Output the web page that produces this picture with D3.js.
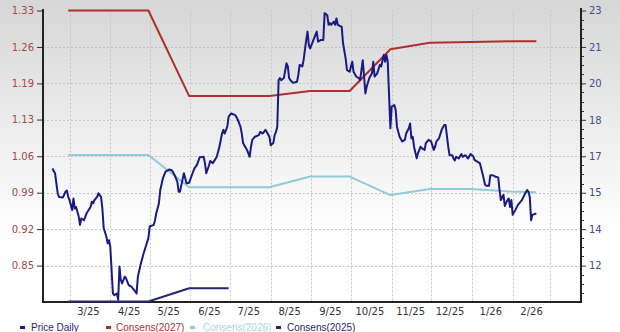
<!DOCTYPE html>
<html><head><meta charset="utf-8">
<script src="https://cdn.jsdelivr.net/npm/d3@7"></script>
<style>html,body{margin:0;padding:0;background:#fff}svg{display:block}</style>
</head><body><svg id="c" width="620" height="332"></svg>
<script>
const priceDates = [
"2025-02-16","2025-02-18","2025-02-20","2025-02-21","2025-02-24","2025-02-26","2025-02-27","2025-02-28",
"2025-03-01","2025-03-03","2025-03-04","2025-03-05","2025-03-06","2025-03-08","2025-03-09","2025-03-10","2025-03-12","2025-03-14","2025-03-17","2025-03-18","2025-03-19","2025-03-20","2025-03-22","2025-03-23","2025-03-25","2025-03-26","2025-03-27","2025-03-29","2025-03-30","2025-03-31",
"2025-04-01","2025-04-02","2025-04-03","2025-04-04","2025-04-06","2025-04-07","2025-04-08","2025-04-09","2025-04-10","2025-04-12","2025-04-13","2025-04-15","2025-04-17","2025-04-20","2025-04-21","2025-04-22","2025-04-24","2025-04-26","2025-04-28","2025-04-30",
"2025-05-01","2025-05-04","2025-05-05","2025-05-06","2025-05-08","2025-05-09","2025-05-11","2025-05-13","2025-05-16","2025-05-18","2025-05-20","2025-05-22","2025-05-23","2025-05-24","2025-05-27","2025-05-29","2025-05-31",
"2025-06-02","2025-06-04","2025-06-06","2025-06-08","2025-06-11","2025-06-12","2025-06-13","2025-06-15","2025-06-16","2025-06-18","2025-06-21","2025-06-23","2025-06-25","2025-06-26","2025-06-27","2025-06-29","2025-06-30",
"2025-07-02","2025-07-05","2025-07-07","2025-07-09","2025-07-10","2025-07-11","2025-07-14","2025-07-16","2025-07-17","2025-07-18","2025-07-20","2025-07-23","2025-07-24","2025-07-26","2025-07-28","2025-07-29","2025-07-31",
"2025-08-01","2025-08-03","2025-08-04","2025-08-05","2025-08-06","2025-08-07","2025-08-08","2025-08-09","2025-08-11","2025-08-13","2025-08-14","2025-08-15","2025-08-16","2025-08-18","2025-08-21","2025-08-22","2025-08-23","2025-08-25","2025-08-26","2025-08-28","2025-08-29","2025-08-30","2025-08-31",
"2025-09-02","2025-09-04","2025-09-05","2025-09-06","2025-09-08","2025-09-10","2025-09-11","2025-09-13","2025-09-14","2025-09-15","2025-09-16","2025-09-18","2025-09-19","2025-09-20","2025-09-21","2025-09-24","2025-09-25","2025-09-27","2025-09-28","2025-09-30",
"2025-10-02","2025-10-03","2025-10-05","2025-10-07","2025-10-08","2025-10-10","2025-10-12","2025-10-13","2025-10-15","2025-10-17","2025-10-18","2025-10-19","2025-10-21","2025-10-23","2025-10-24","2025-10-26","2025-10-27","2025-10-28","2025-10-29","2025-10-31",
"2025-11-01","2025-11-03","2025-11-04","2025-11-05","2025-11-07","2025-11-09","2025-11-11","2025-11-12","2025-11-14","2025-11-15","2025-11-16","2025-11-17","2025-11-18","2025-11-20","2025-11-21","2025-11-23","2025-11-24","2025-11-26","2025-11-27","2025-11-29",
"2025-12-01","2025-12-03","2025-12-04","2025-12-05","2025-12-07","2025-12-09","2025-12-11","2025-12-12","2025-12-14","2025-12-15","2025-12-17","2025-12-18","2025-12-19","2025-12-20","2025-12-22","2025-12-24","2025-12-25","2025-12-27","2025-12-29","2025-12-31",
"2026-01-02","2026-01-03","2026-01-05","2026-01-07","2026-01-09","2026-01-11","2026-01-12","2026-01-14","2026-01-15","2026-01-17","2026-01-19","2026-01-21","2026-01-22","2026-01-23","2026-01-25","2026-01-26","2026-01-28","2026-01-29","2026-01-30","2026-01-31",
"2026-02-01","2026-02-03","2026-02-05","2026-02-08","2026-02-10","2026-02-12","2026-02-13","2026-02-14","2026-02-15","2026-02-16","2026-02-18","2026-02-19"
];
const priceValues = [
1.033,1.024,0.986,0.979,0.978,0.989,0.991,0.979,
0.973,0.954,0.976,0.957,0.960,0.942,0.926,0.938,0.935,0.948,0.960,0.970,0.967,0.973,0.979,0.986,0.979,0.957,0.920,0.904,0.891,0.897,
0.885,0.841,0.796,0.793,0.796,0.784,0.847,0.822,0.815,0.828,0.825,0.812,0.809,0.800,0.796,0.828,0.850,0.869,0.885,0.901,
0.923,0.926,0.935,0.948,0.967,0.992,1.014,1.027,1.031,1.029,1.020,1.008,0.989,0.989,1.024,1.005,1.006,
1.020,1.033,1.040,1.054,1.055,1.043,1.024,1.038,1.047,1.043,1.055,1.074,1.099,1.106,1.099,1.112,1.131,
1.137,1.134,1.125,1.112,1.099,1.081,1.068,1.055,1.074,1.087,1.093,1.096,1.102,1.099,1.106,1.102,1.093,
1.077,1.081,1.096,1.102,1.112,1.200,1.204,1.200,1.204,1.232,1.226,1.204,1.200,1.195,1.197,1.210,1.229,1.226,1.238,1.276,1.292,1.267,1.260,
1.273,1.286,1.292,1.273,1.276,1.276,1.327,1.323,1.305,1.308,1.305,1.311,1.305,1.317,1.305,1.301,1.270,1.241,1.219,1.216,
1.235,1.216,1.207,1.204,1.200,1.238,1.175,1.188,1.204,1.213,1.235,1.207,1.213,1.229,1.226,1.248,1.235,1.248,1.235,1.109,
1.150,1.153,1.144,1.112,1.093,1.084,1.087,1.099,1.109,1.118,1.090,1.093,1.074,1.052,1.062,1.074,1.071,1.068,1.081,1.087,
1.084,1.068,1.074,1.084,1.090,1.106,1.115,1.115,1.074,1.058,1.058,1.052,1.048,1.055,1.052,1.060,1.055,1.058,1.052,1.060,
1.056,1.049,1.046,1.043,1.024,1.002,1.000,1.000,1.020,1.020,1.017,1.016,0.992,0.973,0.983,0.962,0.973,0.976,0.960,0.973,
0.945,0.954,0.964,0.973,0.983,0.992,0.989,0.979,0.935,0.945,0.947,0.947
];
const consDates = ["2025-02-28","2025-03-31","2025-04-30","2025-05-31","2025-06-30","2025-07-31","2025-08-31","2025-09-30","2025-10-31","2025-11-30","2025-12-31","2026-01-31","2026-02-19"];
const cons2027 = [23.0,23.0,23.0,19.31,19.31,19.31,19.53,19.53,21.33,21.61,21.64,21.67,21.67];
const cons2026 = [16.77,16.77,16.77,15.38,15.38,15.38,15.84,15.84,15.04,15.30,15.30,15.19,15.16];
const cons2025Dates = ["2025-02-28","2025-03-31","2025-04-30","2025-05-31","2025-06-30"];
const cons2025 = [10.45,10.45,10.45,11.02,11.02];
const leftTickValues = [0.849,0.918,0.987,1.056,1.1255,1.194,1.263,1.332];
const leftTickLabels = ["0.85","0.92","0.99","1.06","1.13","1.19","1.26","1.33"];
const rightTickValues = [12,13.571,15.143,16.714,18.286,19.857,21.429,23];
const rightTickLabels = ["12","14","15","17","18","20","21","23"];
const monthLabels = ["3/25","4/25","5/25","6/25","7/25","8/25","9/25","10/25","11/25","12/25","1/26","2/26"];
const legendNames = ["Price Daily","Consens(2027)","Consens(2026)","Consens(2025)"];

const W = 620, H = 332;
const L = 43, R = 581, T = 10.5, B = 302;
const parse = d3.utcParse("%Y-%m-%d");
const svg = d3.select("#c");
const colors = {price:"#1a1a84", c27:"#ad3030", c26:"#92cad8", c25:"#27276e"};

const defs = svg.append("defs");
const grad = defs.append("linearGradient").attr("id","bg").attr("x1",0).attr("y1",0).attr("x2",0).attr("y2",1);
grad.append("stop").attr("offset","0%").attr("stop-color","#d6d6d6");
grad.append("stop").attr("offset","70%").attr("stop-color","#ffffff");
grad.append("stop").attr("offset","100%").attr("stop-color","#ffffff");
svg.append("rect").attr("width",W).attr("height",H).attr("fill","url(#bg)");

const x = d3.scaleUtc().domain([parse("2025-03-01"), parse("2026-03-01")]).range([69.5, 549.5]);
const yL = d3.scaleLinear().domain([0.780, 1.332]).range([B, T]);
const yR = d3.scaleLinear().domain([10.43, 23.0]).range([B, T]);

// grid
const grid = svg.append("g").attr("stroke","#c4c4c4").attr("stroke-width",1).attr("stroke-dasharray","2,2");
leftTickValues.slice(0,-1).forEach(v=>{
  grid.append("line").attr("x1",L).attr("x2",R).attr("y1",Math.round(yL(v))+0.5).attr("y2",Math.round(yL(v))+0.5);
});
const months = d3.utcMonth.range(parse("2025-03-01"), parse("2026-03-02"));
months.forEach(m=>{
  const px = Math.round(x(m))+0.5;
  grid.append("line").attr("x1",px).attr("x2",px).attr("y1",T).attr("y2",B);
});

// consensus lines
const lineR = d3.line().x(d=>x(d[0])).y(d=>yR(d[1]));
function drawR(dates, vals, col){
  svg.append("path").datum(dates.map((d,i)=>[parse(d), vals[i]]))
    .attr("d", lineR).attr("fill","none").attr("stroke",col).attr("stroke-width",2).attr("stroke-linejoin","round");
}
drawR(consDates, cons2027, colors.c27);
drawR(consDates, cons2026, colors.c26);

// price
const lineL = d3.line().x(d=>x(d[0])).y(d=>yL(d[1]));
svg.append("path").datum(priceDates.map((d,i)=>[parse(d), priceValues[i]]))
  .attr("d", lineL).attr("fill","none").attr("stroke",colors.price).attr("stroke-width",2).attr("stroke-linejoin","round");

// axes
const axisFont = "'DejaVu Sans', Verdana, sans-serif";
const gL = svg.append("g").attr("transform",`translate(${L},0)`)
  .call(d3.axisLeft(yL).tickValues(leftTickValues).tickFormat((d,i)=>leftTickLabels[i]).tickSize(6).tickSizeOuter(0).tickPadding(3));
gL.select(".domain").remove();
gL.selectAll("line").attr("stroke","#333");
gL.selectAll("text").attr("fill","#a04a4a").style("font-family",axisFont).style("font-size","10px");

const gR = svg.append("g").attr("transform",`translate(${R},0)`)
  .call(d3.axisRight(yR).tickValues(rightTickValues).tickFormat((d,i)=>rightTickLabels[i]).tickSize(5).tickSizeOuter(0).tickPadding(3));
gR.select(".domain").remove();
gR.selectAll("line").attr("stroke","#333");
gR.selectAll("text").attr("fill","#4a4a8c").style("font-family",axisFont).style("font-size","10px");
const minor = d3.range(10.43 + 0.39286, 23.0, 0.39286).filter(v=>!rightTickValues.some(t=>Math.abs(t-v)<0.05));
svg.append("g").selectAll("line").data(minor).join("line")
  .attr("x1",R).attr("x2",R+3).attr("y1",d=>Math.round(yR(d))+0.5).attr("y2",d=>Math.round(yR(d))+0.5)
  .attr("stroke","#333");

const mids = monthLabels.map((m,i)=>d3.utcDay.offset(months[i],14));
const gB = svg.append("g").attr("transform",`translate(0,${B})`)
  .call(d3.axisBottom(x).tickValues(mids).tickFormat((d,i)=>monthLabels[i]).tickSize(0).tickPadding(6));
gB.select(".domain").remove();
gB.selectAll("text").attr("fill","#333").style("font-family",axisFont).style("font-size","10px");

// axis frame lines
svg.append("line").attr("x1",L).attr("x2",L).attr("y1",9).attr("y2",B+1).attr("stroke","#222").attr("stroke-width",2);
svg.append("line").attr("x1",R).attr("x2",R).attr("y1",8).attr("y2",B+1).attr("stroke","#222").attr("stroke-width",2);
svg.append("line").attr("x1",L-1).attr("x2",R+1).attr("y1",B).attr("y2",B).attr("stroke","#222").attr("stroke-width",2);

// 2025 consensus on top of axis
drawR(cons2025Dates, cons2025, colors.c25);

// legend
const legCols = [colors.c25, colors.c27, "#a6d6e0", colors.c25];
const legMark = [colors.price, colors.c27, colors.c26, colors.c25];
const legMarkX = [20, 106, 190, 276];
const legTextX = [31, 116, 203, 287];
const lg = svg.append("g");
legendNames.forEach((n,i)=>{
  lg.append("rect").attr("x",legMarkX[i]).attr("y",326).attr("width",5).attr("height",3).attr("fill",legMark[i]);
  lg.append("text").attr("x",legTextX[i]).attr("y",331).text(n)
    .attr("fill",legCols[i]).style("font-family","'Liberation Sans', Arial, sans-serif").style("font-size","10px");
});
</script>
</body></html>
